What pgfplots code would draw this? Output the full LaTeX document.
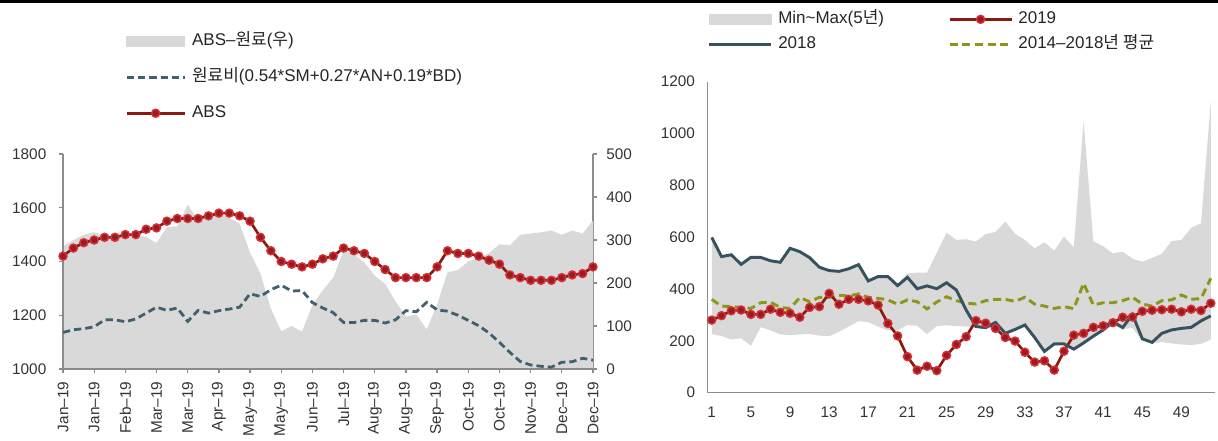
\documentclass[border=0pt]{standalone}
\usepackage{fontspec}
\setmainfont{Liberation Sans}
\newfontfamily\kr{Noto Sans CJK KR}
\usepackage{pgfplots}
\pgfplotsset{compat=1.18}
\usepgfplotslibrary{fillbetween}
\definecolor{areagrey}{HTML}{D9D9D9}
\definecolor{absline}{HTML}{8B1A0E}
\definecolor{markfill}{HTML}{9B1C1C}
\definecolor{markring}{HTML}{D6303C}
\definecolor{rawdash}{HTML}{41606E}
\definecolor{blueline}{HTML}{37525F}
\definecolor{olive}{HTML}{8D9618}
\definecolor{axisgrey}{HTML}{8C8C8C}
\definecolor{tickc}{HTML}{333333}
\pgfplotsset{
  base/.style={scale only axis,
    /pgf/number format/assume math mode=true,
    /pgf/number format/1000 sep={},
    scaled ticks=false,
    tick label style={font=\fontsize{11.5}{13}\selectfont, text=tickc},
    axis line style={axisgrey, line width=1pt},
    tick style={axisgrey, line width=1pt},
    major tick length=3pt,
  },
  redmark/.style={absline, line width=2pt, mark=*, mark size=3pt,
    mark options={fill=markfill, draw=markring, line width=1.1pt, solid}},
  legareaL/.style={legend image code/.code={\fill[areagrey] (0pt,-3.75pt) rectangle (43.5pt,3.75pt);}},
  legareaR/.style={legend image code/.code={\fill[areagrey] (0pt,-3.75pt) rectangle (46.5pt,3.75pt);}},
  leglineL/.style={legend image code/.code={\draw[##1] (0pt,0pt) -- (43.5pt,0pt);}},
  leglineR/.style={legend image code/.code={\draw[##1] (0pt,0pt) -- (46.5pt,0pt);}},
  legmarkL/.style={legend image code/.code={\draw[##1] (0pt,0pt) -- (43.5pt,0pt); \draw[##1] plot coordinates {(21.75pt,0pt)};}},
  legmarkR/.style={legend image code/.code={\draw[##1] (0pt,0pt) -- (46.5pt,0pt); \draw[##1] plot coordinates {(23.25pt,0pt)};}},
}
\begin{document}
\begin{tikzpicture}
\path (0pt,0pt) rectangle (913.5pt,327pt);
\fill[black] (0pt,324.75pt) rectangle (913.5pt,327pt);
% ---------------- left chart: spread area (right axis)
\begin{axis}[base, at={(47.25pt,50.25pt)}, anchor=south west,
  width=397.5pt, height=161.25pt,
  xmin=0, xmax=51, ymin=0, ymax=500,
  axis x line=none, axis y line*=right, tick align=outside,
  ytick={0,100,...,500}, yticklabel style={anchor=west, xshift=3.5pt}]
\addplot[fill=areagrey, draw=none] coordinates {
(0,285) (1,300) (2,312) (3,318) (4,310) (5,307) (6,315) (7,312) (8,307) (9,293)
(10,330) (11,332) (12,382) (13,345) (14,358) (15,360) (16,352) (17,338) (18,270) (19,222)
(20,140) (21,88) (22,100) (23,87) (24,148) (25,183) (26,212) (27,275) (28,266) (29,248)
(30,217) (31,198) (32,157) (33,122) (34,127) (35,92) (36,150) (37,225) (38,230) (39,250)
(40,258) (41,270) (42,290) (43,288) (44,312) (45,315) (46,318) (47,322) (48,312) (49,322)
(50,315) (51,345)} \closedcycle;
\end{axis}
% ---------------- left chart: prices (left axis)
\begin{axis}[base, at={(47.25pt,50.25pt)}, anchor=south west,
  width=397.5pt, height=161.25pt,
  xmin=0, xmax=51, ymin=1000, ymax=1800,
  axis x line*=bottom, axis y line*=left, tick align=outside,
  ytick={1000,1200,...,1800}, yticklabel style={xshift=-6pt},
  xtick={0,3,...,51},
  xticklabels={Jan–19,Jan–19,Feb–19,Mar–19,Mar–19,Apr–19,May–19,May–19,Jun–19,Jul–19,Aug–19,Aug–19,Sep–19,Oct–19,Oct–19,Nov–19,Dec–19,Dec–19},
  xticklabel style={yshift=-3pt, rotate=90, anchor=east},
  legend cell align=left,
  legend style={at={(axis description cs:0.117,1.563)}, anchor=north west,
    draw=none, fill=none, inner sep=0pt, row sep=15pt,
    font=\fontsize{12.75}{15}\selectfont, text=black!85,
    nodes={inner sep=0pt, text height=9pt, text depth=3pt},
    /tikz/every odd column/.append style={column sep=4.5pt}}]
\addlegendimage{legareaL}
\addlegendentry{ABS–{\kr 원료}({\kr 우})}
\addplot[rawdash, line width=2.1pt, dash pattern=on 5.5pt off 3pt, leglineL] coordinates {
(0,1136) (1,1146) (2,1150) (3,1157) (4,1183) (5,1183) (6,1176) (7,1186) (8,1208) (9,1230)
(10,1218) (11,1227) (12,1177) (13,1218) (14,1208) (15,1217) (16,1223) (17,1230) (18,1280) (19,1270)
(20,1295) (21,1312) (22,1290) (23,1292) (24,1247) (25,1227) (26,1210) (27,1173) (28,1173) (29,1181)
(30,1181) (31,1171) (32,1183) (33,1217) (34,1213) (35,1248) (36,1220) (37,1215) (38,1200) (39,1181)
(40,1161) (41,1134) (42,1099) (43,1062) (44,1028) (45,1015) (46,1010) (47,1007) (48,1025) (49,1027)
(50,1040) (51,1033)};
\addlegendentry{{\kr 원료비}(0.54*SM+0.27*AN+0.19*BD)}
\addplot[redmark, legmarkL] coordinates {
(0,1420) (1,1450) (2,1470) (3,1480) (4,1490) (5,1490) (6,1500) (7,1500) (8,1520) (9,1525)
(10,1550) (11,1560) (12,1560) (13,1560) (14,1570) (15,1580) (16,1580) (17,1570) (18,1550) (19,1490)
(20,1440) (21,1400) (22,1390) (23,1380) (24,1390) (25,1410) (26,1420) (27,1450) (28,1440) (29,1430)
(30,1400) (31,1370) (32,1340) (33,1340) (34,1340) (35,1340) (36,1380) (37,1440) (38,1430) (39,1430)
(40,1420) (41,1405) (42,1390) (43,1350) (44,1340) (45,1330) (46,1330) (47,1330) (48,1340) (49,1350)
(50,1355) (51,1380)};
\addlegendentry{ABS}
\end{axis}
% ---------------- right chart
\begin{axis}[base, at={(530.8pt,32.5pt)}, anchor=south west,
  width=380.5pt, height=233.25pt,
  xmin=0.59, xmax=52.44, ymin=0, ymax=1200,
  axis x line*=bottom, axis y line*=left, major tick length=0pt,
  xtick={1,5,...,49}, ytick={0,200,...,1200},
  yticklabel style={xshift=-6pt}, xticklabel style={yshift=-7pt},
  legend columns=2, legend cell align=left,
  legend style={at={(axis description cs:0,1.227)}, anchor=north west,
    draw=none, fill=none, inner sep=0pt, row sep=6.75pt,
    font=\fontsize{12.75}{15}\selectfont, text=black!85,
    nodes={inner sep=0pt, text height=9pt, text depth=3pt},
    /tikz/every odd column/.append style={column sep=4pt},
    /tikz/every even column/.append style={column sep=48pt}}]
\addplot[draw=none, name path=up, forget plot] coordinates {
(1,599) (2,525) (3,532) (4,495) (5,522) (6,522) (7,509) (8,503) (9,557) (10,544)
(11,521) (12,484) (13,471) (14,468) (15,478) (16,494) (17,431) (18,448) (19,448) (20,420)
(21,460) (22,463) (23,463) (24,540) (25,617) (26,589) (27,592) (28,583) (29,612) (30,620)
(31,660) (32,614) (33,589) (34,557) (35,580) (36,548) (37,602) (38,561) (39,1046) (40,585)
(41,565) (42,537) (43,544) (44,517) (45,505) (46,520) (47,536) (48,585) (49,589) (50,636)
(51,653) (52,1123)};
\addplot[draw=none, name path=lo, forget plot] coordinates {
(1,226) (2,219) (3,205) (4,210) (5,181) (6,253) (7,240) (8,225) (9,222) (10,225)
(11,226) (12,220) (13,218) (14,235) (15,255) (16,276) (17,272) (18,255) (19,240) (20,240)
(21,261) (22,258) (23,226) (24,257) (25,260) (26,257) (27,255) (28,252) (29,245) (30,260)
(31,222) (32,238) (33,255) (34,208) (35,155) (36,183) (37,185) (38,162) (39,185) (40,212)
(41,235) (42,260) (43,245) (44,250) (45,200) (46,190) (47,195) (48,190) (49,186) (50,184)
(51,188) (52,205)};
\addplot[fill=areagrey, draw=none, forget plot] fill between[of=up and lo];
\addplot[olive, line width=2.2pt, dash pattern=on 6pt off 3.5pt, forget plot] coordinates {
(1,360) (2,334) (3,332) (4,329) (5,325) (6,347) (7,349) (8,329) (9,325) (10,367)
(11,351) (12,368) (13,368) (14,376) (15,373) (16,381) (17,368) (18,364) (19,358) (20,341)
(21,358) (22,351) (23,323) (24,350) (25,370) (26,355) (27,345) (28,342) (29,355) (30,360)
(31,360) (32,352) (33,368) (34,342) (35,334) (36,325) (37,332) (38,324) (39,422) (40,338)
(41,347) (42,347) (43,355) (44,368) (45,342) (46,334) (47,355) (48,358) (49,377) (50,360)
(51,363) (52,441)};
\addplot[redmark, forget plot] coordinates {
(1,280) (2,297) (3,316) (4,319) (5,302) (6,302) (7,322) (8,310) (9,306) (10,291)
(11,329) (12,332) (13,383) (14,341) (15,360) (16,360) (17,354) (18,338) (19,267) (20,219)
(21,139) (22,87) (23,102) (24,85) (25,144) (26,186) (27,216) (28,278) (29,268) (30,248)
(31,213) (32,199) (33,156) (34,118) (35,123) (36,87) (37,160) (38,222) (39,229) (40,252)
(41,258) (42,270) (43,291) (44,292) (45,314) (46,318) (47,320) (48,322) (49,312) (50,322)
(51,317) (52,345)};
\addplot[blueline, line width=2.2pt, forget plot] coordinates {
(1,599) (2,525) (3,532) (4,495) (5,522) (6,522) (7,509) (8,503) (9,557) (10,544)
(11,521) (12,484) (13,471) (14,468) (15,478) (16,494) (17,431) (18,448) (19,448) (20,413)
(21,445) (22,401) (23,412) (24,401) (25,424) (26,396) (27,319) (28,255) (29,251) (30,271)
(31,229) (32,244) (33,261) (34,213) (35,159) (36,188) (37,188) (38,168) (39,192) (40,218)
(41,242) (42,274) (43,251) (44,302) (45,208) (46,194) (47,229) (48,242) (49,248) (50,252)
(51,277) (52,296)};
\addlegendimage{legareaR}
\addlegendentry{Min\textasciitilde Max(5{\kr 년})}
\addlegendimage{redmark, legmarkR}
\addlegendentry{2019}
\addlegendimage{blueline, line width=2.2pt, leglineR}
\addlegendentry{2018}
\addlegendimage{olive, line width=2.2pt, dash pattern=on 6pt off 3.5pt, leglineR}
\addlegendentry{2014–2018{\kr 년 평균}}
\node[font=\kr\fontsize{11}{13}\selectfont, text=black!85] at (axis description cs:0.034,1.06) {달러/톤};
\end{axis}
\end{tikzpicture}
\end{document}
